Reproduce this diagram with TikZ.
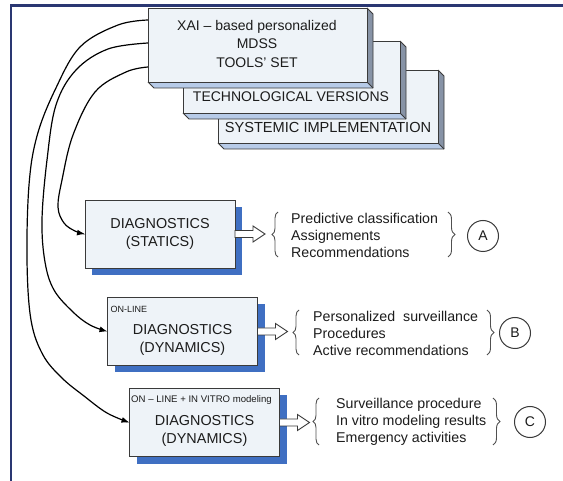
\documentclass[tikz,border=0pt]{standalone}
\usepackage{fontspec}
\setmainfont{Liberation Sans}
\usetikzlibrary{arrows.meta,decorations.pathreplacing,shadows}

\definecolor{framenavy}{HTML}{2A3772}
\definecolor{facefill}{HTML}{EEF3F8}
\definecolor{sidegray}{HTML}{8793A6}
\definecolor{bottomblue}{HTML}{B7CBE8}
\definecolor{edgegray}{HTML}{3A3A3A}
\definecolor{shadowblue}{HTML}{3F6FC2}
\definecolor{inkgray}{HTML}{1C1C1C}
\definecolor{bracegray}{HTML}{505050}

% a slab with depth towards the lower right: x1, y1, x2, y2, name
\newcommand{\drawslab}[5]{%
  \fill[slabside] (#3,#2) -- (#3+6,#2+6) -- (#3+6,#4+6) -- (#3,#4) -- cycle;
  \fill[slabbottom] (#1,#4) -- (#3,#4) -- (#3+6,#4+6) -- (#1+6,#4+6) -- cycle;
  \draw[slabedge] (#3,#2) -- (#3+6,#2+6) -- (#3+6,#4+6) -- (#1+6,#4+6) -- (#1,#4);
  \draw[slabedge] (#3,#4) -- (#3+6,#4+6);
  \node[slabface, anchor=north west, minimum width=#3-#1, minimum height=#4-#2] (#5) at (#1,#2) {};
}

\tikzset{
  slabface/.style={draw=edgegray, line width=0.9pt, fill=facefill, inner sep=0pt, outer sep=0pt},
  slabside/.style={fill=sidegray},
  slabbottom/.style={fill=bottomblue},
  slabedge/.style={draw=edgegray, line width=0.9pt, line join=round},
  diagbox/.style={draw=edgegray, line width=0.9pt, fill=facefill,
    minimum width=150pt, minimum height=68pt, inner sep=0pt, outer sep=0pt,
    drop shadow={shadow xshift=7pt, shadow yshift=-7pt, fill=shadowblue, opacity=1}},
  bigtext/.style={font=\fontsize{14.4}{18}\selectfont, text=inkgray, inner sep=0pt, align=center},
  listtext/.style={font=\fontsize{14.2}{17}\selectfont, text=inkgray, inner sep=0pt, align=left, anchor=west},
  smalltag/.style={font=\fontsize{9}{10}\selectfont, text=inkgray, inner sep=0pt, anchor=west},
  curve/.style={draw=black, line width=1.2pt, -{Latex[length=8pt,width=6pt]}},
  hollow/.style={draw=edgegray, line width=0.9pt, fill=white, line join=miter},
  bracket/.style={draw=bracegray, line width=0.9pt, decorate, decoration={brace, amplitude=#1}},
  letter/.style={circle, draw=edgegray, line width=1pt, minimum size=31pt, inner sep=0pt,
    font=\fontsize{14}{14}\selectfont, text=inkgray}
}

\begin{document}
\begin{tikzpicture}[x=1pt,y=-1pt]
\useasboundingbox (0,0) rectangle (563,481);
\fill[white] (0,0) rectangle (563,481);

% outer frame (top and left)
\draw[framenavy, line width=2.2pt] (11,481) -- (11,5.5) -- (563,5.5);

% stacked slabs, back to front
\drawslab{218}{70}{438}{143}{sysbox}
\drawslab{183}{41}{400}{113}{techbox}
\drawslab{148}{8}{367}{82}{xai}

\node[bigtext, font=\fontsize{14.6}{17}\selectfont] (systxt) at (328,127) {SYSTEMIC IMPLEMENTATION};
\node[bigtext, font=\fontsize{14}{17}\selectfont] (techtxt) at (291,97) {TECHNOLOGICAL VERSIONS};
\node[bigtext, font=\fontsize{14}{18.5}\selectfont] (xaitxt) at (257,43.5) {XAI – based personalized\\MDSS\\TOOLS' SET};

% diagnostics boxes
\node[diagbox] (D1) at (160,234) {};
\node[diagbox] (D2) at (182.5,331.5) {};
\node[diagbox] (D3) at (204.5,422.5) {};

\node[bigtext] (D1t) at (D1.center) {DIAGNOSTICS\\(STATICS)};
\node[bigtext] (D2t) at ([yshift=-8.5pt]D2.center) {DIAGNOSTICS\\(DYNAMICS)};
\node[bigtext] (D3t) at ([yshift=-8pt]D3.center) {DIAGNOSTICS\\(DYNAMICS)};
\node[smalltag] (D2tag) at ([xshift=3pt,yshift=-12pt]D2.north west) {ON-LINE};
\node[smalltag, font=\fontsize{9.6}{10}\selectfont] (D3tag) at ([xshift=1.5pt,yshift=-12pt]D3.north west) {ON – LINE + IN VITRO modeling};

% links from the tools' set to each diagnostics box
\coordinate (s1) at ([yshift=-12pt]xai.north west);
\coordinate (s2) at ([yshift=-35pt]xai.north west);
\coordinate (s3) at ([yshift=-59pt]xai.north west);

\draw[curve] plot[smooth, tension=0.6] coordinates
  {(s3) (126,72) (95,92) (73,135) (62,180) (58,207) (64,223) (75,231) (D1.west)};
\draw[curve] plot[smooth, tension=0.6] coordinates
  {(s2) (108,49) (76,70) (56,105) (47,160) (42,220) (45,262) (54,290) (73,312) (90,325) (D2.west)};
\draw[curve] plot[smooth, tension=0.6] coordinates
  {(s1) (118,25) (80,47) (55,90) (37,136) (29,185) (27,260) (31,320) (43,355) (62,378) (84,396) (107,413) (D3.west)};

% hollow output arrows
\foreach \b in {D1,D2,D3}{
  \draw[hollow] ([yshift=3.5pt]\b.east) -- ++(18,0) -- ++(0,-4.5) -- ++(12,8)
    -- ++(-12,8) -- ++(0,-4.5) -- ([yshift=-3.5pt]\b.east) -- cycle;
}

% result lists
\node[listtext] (LA) at (291,235) {Predictive classification\\Assignements\\Recommendations};
\node[listtext] (LB) at (313,333) {Personalized~ surveillance\\Procedures\\Active recommendations};
\node[listtext] (LC) at (336,422) {Surveillance procedure\\In vitro modeling results\\Emergency activities};

% braces
\draw[bracket=6pt] (278,257) -- (278,212);
\draw[bracket=7pt] (448,212) -- (448,257);
\draw[bracket=6pt] (299,355) -- (299,310);
\draw[bracket=7pt] (487,310) -- (487,355);
\draw[bracket=6pt] (319,445) -- (319,398);
\draw[bracket=7pt] (493,398) -- (493,445);

% outcome labels
\node[letter] (cA) at (483,236) {A};
\node[letter] (cB) at (515,333) {B};
\node[letter] (cC) at (530,422) {C};
\end{tikzpicture}
\end{document}
